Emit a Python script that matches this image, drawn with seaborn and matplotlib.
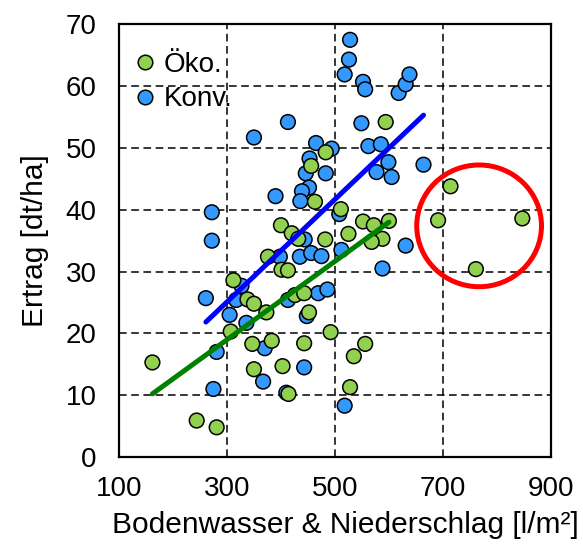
import numpy as np
import pandas as pd
import seaborn as sns
import matplotlib
matplotlib.use("Agg")
import matplotlib.pyplot as plt
from matplotlib.patches import Ellipse
from matplotlib.lines import Line2D

# ---- data ----
oeko_x = [594, 456, 483, 463, 511, 400, 420, 432, 482, 525, 552, 572, 600, 588, 568,
          376, 401, 413, 312, 338, 350, 373, 426, 443, 452, 307, 492, 162, 347, 383,
          443, 556, 535, 350, 403, 414, 528, 244, 281]
oeko_y = [54.2, 47.1, 49.3, 41.3, 40.1, 37.5, 36.2, 35.3, 35.2, 36.1, 38.1, 37.5, 38.2, 35.3, 34.8,
          32.4, 30.3, 30.2, 28.6, 25.5, 24.8, 23.4, 26.2, 26.5, 23.4, 20.3, 20.2, 15.3, 18.3, 18.8,
          18.4, 18.3, 16.3, 14.2, 14.7, 10.2, 11.3, 5.9, 4.8]
# circled outliers (Öko.)
outlier_x = [691, 714, 847, 761]
outlier_y = [38.3, 43.8, 38.6, 30.4]

konv_x = [528, 526, 518, 552, 556, 618, 631, 638, 549, 413, 350, 465, 494, 562, 585,
          453, 446, 483, 599, 577, 605, 664, 452, 439, 436, 390, 272, 272, 508, 444,
          512, 631, 398, 435, 456, 475, 588, 327, 261, 317, 305, 336, 413, 469, 486,
          448, 281, 370, 367, 443, 275, 410, 518]
konv_y = [67.5, 64.3, 61.9, 60.7, 59.5, 58.9, 60.3, 61.9, 54.0, 54.2, 51.7, 50.8, 49.9, 50.3, 50.6,
          48.3, 45.9, 45.9, 47.7, 46.1, 45.3, 47.3, 43.6, 43.0, 41.4, 42.2, 39.6, 35.0, 39.3, 35.2,
          33.5, 34.2, 32.4, 32.4, 33.0, 32.5, 30.5, 27.7, 25.7, 25.4, 23.0, 21.7, 25.4, 26.5, 27.1,
          22.8, 17.0, 17.6, 12.2, 14.5, 11.0, 10.4, 8.3]

x_ticks = [100, 300, 500, 700, 900]
y_ticks = [0, 10, 20, 30, 40, 50, 60, 70]
labels = ["Öko.", "Konv."]
x_label = "Bodenwasser & Niederschlag [l/m²]"
y_label = "Ertrag [dt/ha]"

# ---- styling ----
sns.set_style("white")
plt.rcParams['font.family'] = ['Liberation Sans', 'DejaVu Sans']
plt.rcParams['text.color'] = 'black'
plt.rcParams['axes.labelcolor'] = 'black'
plt.rcParams['xtick.color'] = 'black'
plt.rcParams['ytick.color'] = 'black'

GREEN = "#92D050"
BLUE = "#3399FF"

df_oeko = pd.DataFrame({"x": oeko_x + outlier_x, "y": oeko_y + outlier_y, "Gruppe": labels[0]})
df_konv = pd.DataFrame({"x": konv_x, "y": konv_y, "Gruppe": labels[1]})
df = pd.concat([df_konv, df_oeko], ignore_index=True)

fig = plt.figure(figsize=(5.83, 5.49), dpi=100)
ax = fig.add_axes([0.204, 0.1676, 0.741, 0.788])

ax.set_xlim(100, 900)
ax.set_ylim(0, 70)
ax.set_xticks(x_ticks)
ax.set_yticks(y_ticks)
ax.grid(True, color="black", linestyle=(0, (5, 3)), linewidth=1.1)
ax.set_axisbelow(True)

sns.scatterplot(data=df, x="x", y="y", hue="Gruppe", hue_order=labels,
                palette={labels[0]: GREEN, labels[1]: BLUE},
                s=112, edgecolor="black", linewidth=1.1, ax=ax, zorder=3, legend=False)

# regression lines
sns.regplot(x=np.array(konv_x), y=np.array(konv_y), scatter=False, ci=None, truncate=True,
            ax=ax, line_kws=dict(color="#0000FF", linewidth=3.6, solid_capstyle="round", zorder=4))
sns.regplot(x=np.array(oeko_x), y=np.array(oeko_y), scatter=False, ci=None, truncate=True,
            ax=ax, line_kws=dict(color="#008000", linewidth=3.6, solid_capstyle="round", zorder=4))

# red circle around outliers
ell = Ellipse((767, 37.4), width=231, height=19.7, fill=False, edgecolor="#FF0000",
              linewidth=3.6, zorder=5)
ax.add_patch(ell)

ax.set_xlim(100, 900)
ax.set_ylim(0, 70)
ax.set_xlabel(x_label, fontsize=21.5, labelpad=10)
ax.xaxis.set_label_coords(0.525, -0.125)
ax.set_ylabel(y_label, fontsize=21.5, labelpad=12)
ax.tick_params(axis="both", labelsize=20, direction="out", length=5, width=1.5,
               color="black")
ax.tick_params(axis="y", pad=11)
ax.tick_params(axis="x", pad=9)
for sp in ax.spines.values():
    sp.set_visible(True)
    sp.set_color("black")
    sp.set_linewidth(1.6)
    sp.set_zorder(6)

# legend
handles = [Line2D([], [], marker="o", linestyle="none", markersize=10.5,
                  markerfacecolor=GREEN, markeredgecolor="black", markeredgewidth=1.1),
           Line2D([], [], marker="o", linestyle="none", markersize=10.5,
                  markerfacecolor=BLUE, markeredgecolor="black", markeredgewidth=1.1)]
ax.legend(handles, labels, loc="upper left", frameon=False, fontsize=20,
          handletextpad=0.25, borderaxespad=0.0, labelspacing=0.3, handlelength=0.8,
          bbox_to_anchor=(0.01, 0.962))

fig.savefig("out.png", dpi=100)
